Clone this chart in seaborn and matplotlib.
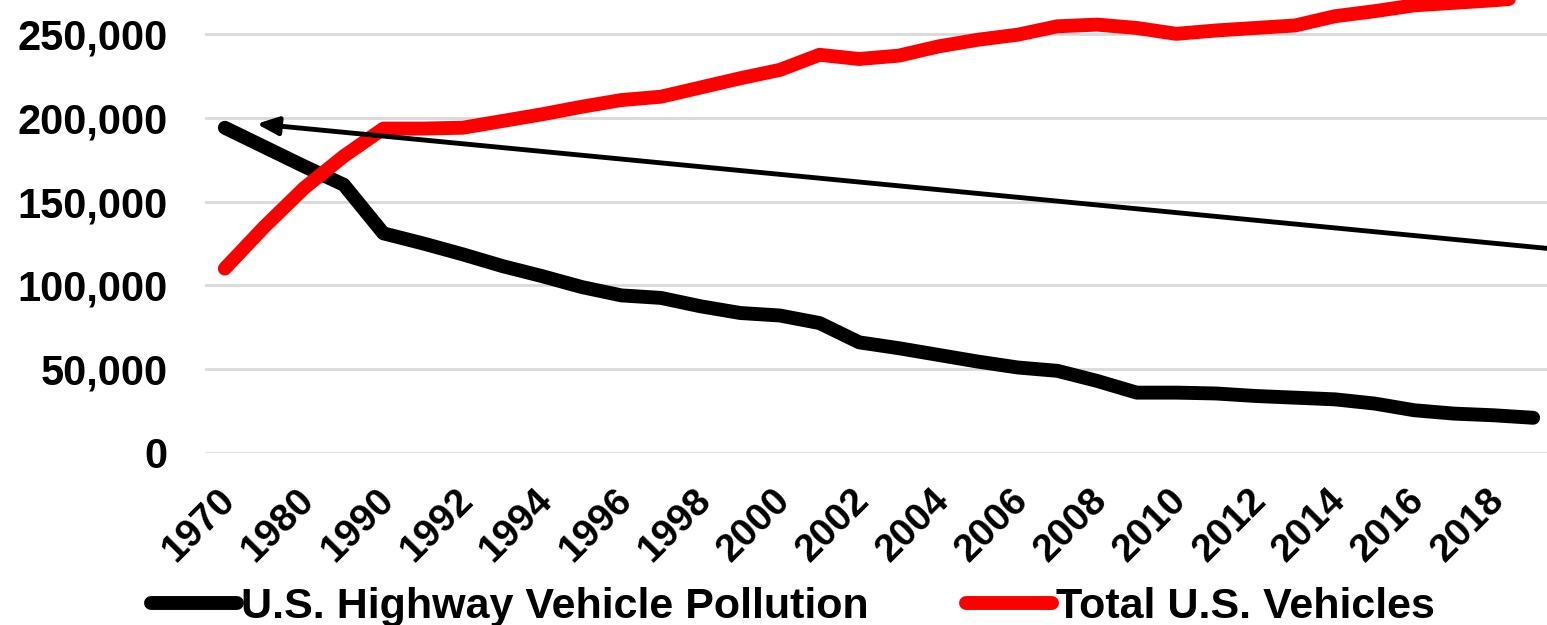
import numpy as np
import pandas as pd
import matplotlib
matplotlib.use("Agg")
import matplotlib.pyplot as plt
from matplotlib.transforms import ScaledTranslation
import seaborn as sns

# categories on the x axis (5-year steps first, then yearly)
years = ["1970", "1975", "1980", "1985"] + [str(y) for y in range(1990, 2020)]

# series values
pollution = [194000, 182500, 171000, 160000, 131000, 125000, 118500, 111500,
             105500, 99000, 94000, 92500, 87500, 83500, 82000, 77500, 66000,
             62500, 58500, 54500, 51000, 49000, 43000, 36000, 36000, 35500,
             34000, 33000, 32000, 29500, 25500, 23500, 22500, 21000]
vehicles = [110000, 135000, 158000, 177000, 193500, 193500, 194000, 198000,
            202000, 206500, 210500, 212500, 218000, 223500, 228500, 237500,
            235000, 237000, 242500, 246500, 249500, 254500, 255500, 253500,
            250000, 252000, 253500, 255000, 260500, 263500, 267000, 268500,
            270000, 272000]

series_names = ["U.S. Highway Vehicle Pollution", "Total U.S. Vehicles"]
series_colors = ["#000000", "#ff0000"]

# trend arrow: from right edge back to the 1970 start
arrow_start = (33.5, 121700)
arrow_end = (0.8, 196300)

idx = np.arange(len(years))
df = pd.concat([
    pd.DataFrame({"idx": idx, "value": pollution, "series": series_names[0]}),
    pd.DataFrame({"idx": idx, "value": vehicles, "series": series_names[1]}),
])

sns.set_style("white")
plt.rcParams["font.family"] = ["Liberation Sans", "DejaVu Sans"]
plt.rcParams["font.weight"] = "bold"
plt.rcParams["text.color"] = "black"
plt.rcParams["xtick.color"] = "black"
plt.rcParams["ytick.color"] = "black"

fig = plt.figure(figsize=(15.47, 6.25), dpi=100)
ax = fig.add_axes([205 / 1547, 172 / 625, 1348 / 1547, 503 / 625])

sns.lineplot(data=df, x="idx", y="value", hue="series",
             palette=dict(zip(series_names, series_colors)),
             linewidth=10, solid_capstyle="round", solid_joinstyle="round",
             legend=False, ax=ax, zorder=3)

ax.annotate("", xy=arrow_end, xytext=arrow_start,
            arrowprops=dict(arrowstyle="-|>,head_length=0.4,head_width=0.17",
                            color="black", lw=3.5, mutation_scale=32,
                            shrinkA=0, shrinkB=0),
            annotation_clip=False, zorder=4)

ax.set_xlim(-0.5, len(years) - 0.5)
ax.set_ylim(0, 300000)
ax.tick_params(axis="y", length=0, pad=27)
ax.tick_params(axis="x", length=0, pad=35)
yt = np.arange(0, 250001, 50000)
ax.set_yticks(yt)
ax.set_yticklabels([f"{v:,}" for v in yt], fontsize=30, fontweight="bold")
ax.set_xticks(idx[::2])
ax.set_xticklabels(years[::2], fontsize=28, fontweight="bold",
                   rotation=45, ha="right", va="baseline",
                   rotation_mode="anchor")
# nudge rotated labels to the right, like the original
for lab in ax.get_xticklabels():
    lab.set_transform(lab.get_transform() +
                      ScaledTranslation(0.12, 0, fig.dpi_scale_trans))
ax.set_xlabel("")
ax.set_ylabel("")

ax.grid(axis="y", color="#d9d9d9", linewidth=2)
ax.grid(axis="x", visible=False)
ax.set_axisbelow(True)
sns.despine(ax=ax, left=True, bottom=True)

handles = ax.get_lines()[:2]
fig.legend(handles, series_names, loc="center", ncol=2,
           bbox_to_anchor=(793 / 1547, 1 - 607 / 625),
           frameon=False, handlelength=2.0,
           handletextpad=0.1, columnspacing=2.25,
           prop={"weight": "bold", "size": 31})

fig.savefig("out.png", dpi=100)
